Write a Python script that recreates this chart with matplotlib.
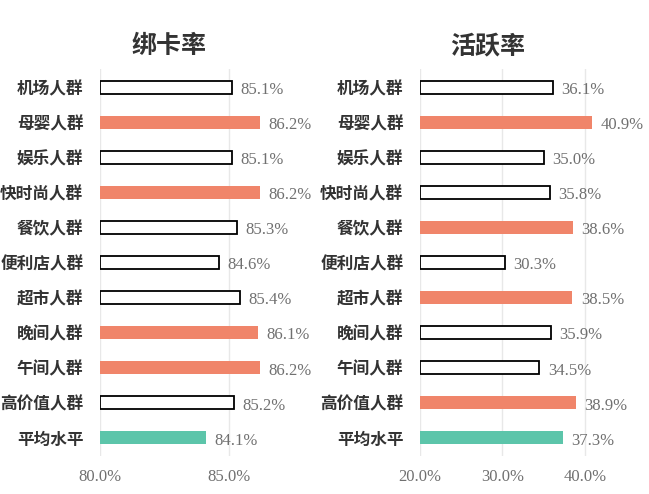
import matplotlib
matplotlib.use('Agg')
import matplotlib.pyplot as plt
import numpy as np

plt.rcParams['font.family'] = ['Noto Sans CJK SC', 'DejaVu Sans']

groups = ['机场人群', '母婴人群', '娱乐人群', '快时尚人群', '餐饮人群', '便利店人群',
          '超市人群', '晚间人群', '午间人群', '高价值人群', '平均水平']
bind_rate = [85.1, 86.2, 85.1, 86.2, 85.3, 84.6, 85.4, 86.1, 86.2, 85.2, 84.1]
active_rate = [36.1, 40.9, 35.0, 35.8, 38.6, 30.3, 38.5, 35.9, 34.5, 38.9, 37.3]
bind_hi = ['母婴人群', '快时尚人群', '晚间人群', '午间人群']
active_hi = ['母婴人群', '餐饮人群', '超市人群', '高价值人群']

SALMON = '#F0856A'
TEAL = '#5CC5AA'
GRAY = '#707070'
serif = ['Liberation Serif', 'DejaVu Serif']

fig = plt.figure(figsize=(6.49, 4.94), dpi=100)
ax1 = fig.add_axes([100/649, 1-455.5/494, 181/649, 386/494])
ax2 = fig.add_axes([420/649, 1-455.5/494, 206/649, 386/494])


def draw(ax, vals, hi, xlim, ticks):
    y = np.arange(len(groups))
    for i, (g, v) in enumerate(zip(groups, vals)):
        if g == '平均水平':
            ax.barh(i, v - xlim[0], left=xlim[0], height=0.37, color=TEAL, zorder=3)
        elif g in hi:
            ax.barh(i, v - xlim[0], left=xlim[0], height=0.37, color=SALMON, zorder=3)
        else:
            ax.barh(i, v - xlim[0], left=xlim[0], height=0.37, color='white',
                    edgecolor='black', linewidth=1.3, zorder=3)
        ax.annotate('%.1f%%' % v, (v, i), xytext=(6, -2), textcoords='offset points',
                    va='center', ha='left', fontsize=12, color=GRAY, family=serif)
    ax.set_xlim(*xlim)
    ax.set_ylim(len(groups) - 0.5, -0.5)
    ax.set_yticks(y)
    ax.set_yticklabels(groups, fontsize=12, fontweight='bold', color='#333333')
    ax.set_xticks(ticks)
    ax.set_xticklabels(['%.1f%%' % t for t in ticks], fontsize=12, color=GRAY, family=serif)
    ax.tick_params(axis='y', length=0, pad=12)
    ax.tick_params(axis='x', length=0, pad=10)
    for s in ax.spines.values():
        s.set_visible(False)
    ax.grid(axis='x', color='#e8e8e8', linewidth=1, zorder=0)


draw(ax1, bind_rate, bind_hi, (80, 87), [80, 85])
draw(ax2, active_rate, active_hi, (20, 45), [20, 30, 40])

fig.text(169/649, 1-46/494, '绑卡率', ha='center', va='center', fontsize=18, fontweight='bold', color='#333333')
fig.text(488/649, 1-46/494, '活跃率', ha='center', va='center', fontsize=18, fontweight='bold', color='#333333')

fig.savefig('out.png', dpi=100)
